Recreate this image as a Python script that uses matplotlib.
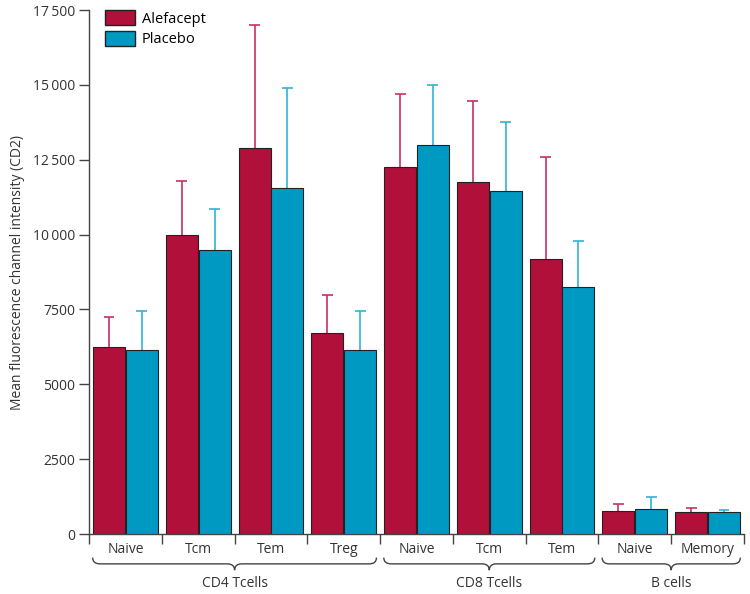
import numpy as np
import matplotlib.pyplot as plt
from matplotlib.path import Path
from matplotlib.patches import PathPatch, Patch
from matplotlib.transforms import blended_transform_factory

plt.rcParams['font.family'] = ['Open Sans', 'DejaVu Sans']

# dados
categorias = ['Naive', 'Tcm', 'Tem', 'Treg', 'Naive', 'Tcm', 'Tem', 'Naive', 'Memory']
grupos = ['CD4 Tcells', 'CD8 Tcells', 'B cells']
grupo_inicio = [0, 4, 7]
grupo_fim = [3, 6, 8]

alefacept = [6250, 10000, 12900, 6700, 12250, 11750, 9200, 760, 720]
alefacept_erro = [1000, 1800, 4100, 1300, 2450, 2700, 3400, 230, 150]
placebo = [6150, 9500, 11550, 6150, 13000, 11450, 8250, 830, 720]
placebo_erro = [1300, 1350, 3350, 1300, 2000, 2300, 1550, 400, 70]

yticks = [0, 2500, 5000, 7500, 10000, 12500, 15000, 17500]

cor_a = '#b0103a'
cor_p = '#0099c2'
cor_a_err = '#c83060'
cor_p_err = '#30b4d4'

fig = plt.figure(figsize=(7.5, 5.94), dpi=100)
ax = fig.add_axes([0.1187, 0.101, 0.8733, 0.882])

x = np.arange(len(categorias))
w = 0.44
xa = x - 0.225
xp = x + 0.225
ax.bar(xa, alefacept, w, color=cor_a, edgecolor='#222222', linewidth=0.8, zorder=3)
ax.bar(xp, placebo, w, color=cor_p, edgecolor='#222222', linewidth=0.8, zorder=3)

# barras de erro so para cima
topo_a = np.array(alefacept) + np.array(alefacept_erro)
topo_p = np.array(placebo) + np.array(placebo_erro)
cap = 0.075
ax.vlines(xa, alefacept, topo_a, color=cor_a_err, linewidth=1.2, zorder=2)
ax.hlines(topo_a, xa - cap, xa + cap, color=cor_a_err, linewidth=1.2, zorder=2)
ax.vlines(xp, placebo, topo_p, color=cor_p_err, linewidth=1.2, zorder=2)
ax.hlines(topo_p, xp - cap, xp + cap, color=cor_p_err, linewidth=1.2, zorder=2)

ax.set_xlim(-0.5, len(categorias) - 0.5)
ax.set_ylim(0, 17500)

def fmt(v):
    s = str(v)
    if v >= 10000:
        s = s[:-3] + '\u2009' + s[-3:]
    return s

ax.set_yticks(yticks)
ax.set_yticklabels([fmt(v) for v in yticks], fontsize=10, color='#333333')
ax.tick_params(axis='y', direction='out', length=7, width=1, color='#444444', pad=3)
ax.set_xticks(np.arange(-0.5, len(categorias), 1.0))
ax.set_xticklabels([])
ax.tick_params(axis='x', direction='out', length=7, width=1, color='#444444')

for s in ['top', 'right']:
    ax.spines[s].set_visible(False)
for s in ['left', 'bottom']:
    ax.spines[s].set_color('#444444')
    ax.spines[s].set_linewidth(1)

ax.set_ylabel('Mean fluorescence channel intensity (CD2)', fontsize=10, color='#333333', labelpad=6)

trans = blended_transform_factory(ax.transData, ax.transAxes)
for i, c in enumerate(categorias):
    ax.text(i, -0.029, c, transform=trans, ha='center', va='center', fontsize=10, color='#333333')

# chaves dos grupos
yt, ym, yb = -0.045, -0.057, -0.069
for g, i0, i1 in zip(grupos, grupo_inicio, grupo_fim):
    x0 = i0 - 0.45
    x1 = i1 + 0.45
    xc = (x0 + x1) / 2
    d = 0.1
    verts = [(x0, yt), (x0, ym), (x0 + d, ym),
             (xc - d, ym), (xc, ym), (xc, yb),
             (xc, ym), (xc + d, ym),
             (x1 - d, ym), (x1, ym), (x1, yt)]
    codes = [Path.MOVETO, Path.CURVE3, Path.CURVE3,
             Path.LINETO, Path.CURVE3, Path.CURVE3,
             Path.CURVE3, Path.CURVE3,
             Path.LINETO, Path.CURVE3, Path.CURVE3]
    ax.add_patch(PathPatch(Path(verts, codes), transform=trans, fill=False,
                           edgecolor='#444444', linewidth=1, clip_on=False))
    ax.text(xc, -0.094, g, transform=trans, ha='center', va='center', fontsize=10, color='#333333')

handles = [Patch(facecolor=cor_a, edgecolor='#222222', label='Alefacept'),
           Patch(facecolor=cor_p, edgecolor='#222222', label='Placebo')]
ax.legend(handles=handles, loc='upper left', bbox_to_anchor=(0.005, 1.025), frameon=False,
          fontsize=10.5, handlelength=2.0, handleheight=1.2, labelspacing=0.3, handletextpad=0.5)

fig.savefig('out.png', dpi=100)
